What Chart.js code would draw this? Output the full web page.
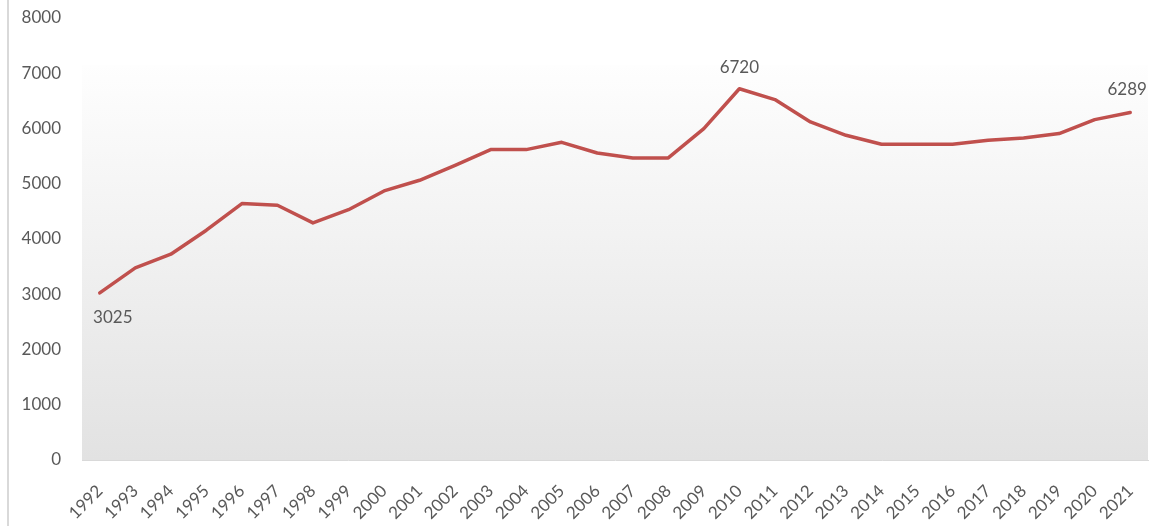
<!DOCTYPE html>
<html>
<head>
<meta charset="utf-8">
<script src="https://cdn.jsdelivr.net/npm/chart.js@4"></script>
<style>
    body { margin: 0; background: #ffffff; }
    #chartAnos { display: block; }
</style>
</head>
<body>
<canvas id="chartAnos" width="1159" height="526"></canvas>
<script>
const anos = ['1992', '1993', '1994', '1995', '1996', '1997', '1998', '1999', '2000', '2001',
    '2002', '2003', '2004', '2005', '2006', '2007', '2008', '2009', '2010', '2011',
    '2012', '2013', '2014', '2015', '2016', '2017', '2018', '2019', '2020', '2021'];
const valores = [3025, 3477, 3725, 4159, 4642, 4611, 4291, 4530, 4870, 5063,
    5334, 5618, 5618, 5750, 5557, 5467, 5467, 5997, 6720, 6523,
    6118, 5877, 5714, 5714, 5714, 5787, 5829, 5908, 6161, 6289];
const rotulos = [0, 18, 29];   // pontos que recebem rótulo
const eixoY = { min: 0, max: 8000, passo: 1000 };

const corTexto = '#595959';
const fonte = 'Lato, "Open Sans", sans-serif';

// fundo em degradê da área do gráfico + linha cinza na borda esquerda
const fundo = {
    id: 'fundo',
    beforeDraw(chart) {
        const { ctx, chartArea, scales } = chart;
        const topo = scales.y.getPixelForValue(7150);
        const grad = ctx.createLinearGradient(0, topo, 0, chartArea.bottom);
        grad.addColorStop(0, '#fefefe');
        grad.addColorStop(1, '#e2e2e2');
        ctx.save();
        ctx.fillStyle = grad;
        ctx.fillRect(chartArea.left, topo, chartArea.right - chartArea.left, chartArea.bottom - topo);
        ctx.fillStyle = '#d9d9d9';
        ctx.fillRect(7, 0, 2, chart.height);
        ctx.restore();
    }
};

// rótulos de valor (primeiro, pico e último)
const rotuloValor = {
    id: 'rotuloValor',
    afterDatasetsDraw(chart) {
        const { ctx } = chart;
        const meta = chart.getDatasetMeta(0);
        ctx.save();
        ctx.font = '17px ' + fonte;
        ctx.fillStyle = corTexto;
        ctx.textAlign = 'center';
        ctx.textBaseline = 'middle';
        rotulos.forEach(function (i) {
            const p = meta.data[i];
            let dx = 0, dy = -21;
            if (i === 0) { dx = 13; dy = 25; }
            if (i === anos.length - 1) { dx = -3; dy = -23; }
            ctx.fillText(String(valores[i]), p.x + dx, p.y + dy);
        });
        ctx.restore();
    }
};

const ctxAnos = document.getElementById('chartAnos');
const chartAnos = new Chart(ctxAnos, {
    type: 'line',
    data: {
        labels: anos,
        datasets: [{
            data: valores,
            borderColor: '#c0504d',
            borderWidth: 3.5,
            borderJoinStyle: 'round',
            borderCapStyle: 'round',
            pointRadius: 0,
            tension: 0,
            fill: false
        }]
    },
    options: {
        responsive: false,
        animation: false,
        layout: { padding: { top: 18, right: 11, bottom: 0, left: 0 } },
        plugins: {
            legend: { display: false },
            tooltip: { enabled: false }
        },
        scales: {
            x: {
                offset: true,
                grid: { display: false, drawTicks: false },
                border: { display: true, color: '#d9d9d9', width: 1 },
                ticks: {
                    color: corTexto,
                    font: { family: fonte, size: 17 },
                    minRotation: 45,
                    maxRotation: 45,
                    autoSkip: false,
                    padding: 21
                },
                afterFit: function (s) {
                    s.height = 66;
                    s.paddingLeft = 0;
                    s.paddingRight = 0;
                }
            },
            y: {
                min: eixoY.min,
                max: eixoY.max,
                grid: { display: false, drawTicks: false },
                border: { display: false },
                ticks: {
                    stepSize: eixoY.passo,
                    color: corTexto,
                    font: { family: fonte, size: 17 },
                    padding: 21,
                    callback: function (v) { return String(v); }
                },
                afterFit: function (s) {
                    s.width = 82;
                    s.paddingTop = 0;
                    s.paddingBottom = 0;
                }
            }
        }
    },
    plugins: [fundo, rotuloValor]
});
</script>
</body>
</html>
